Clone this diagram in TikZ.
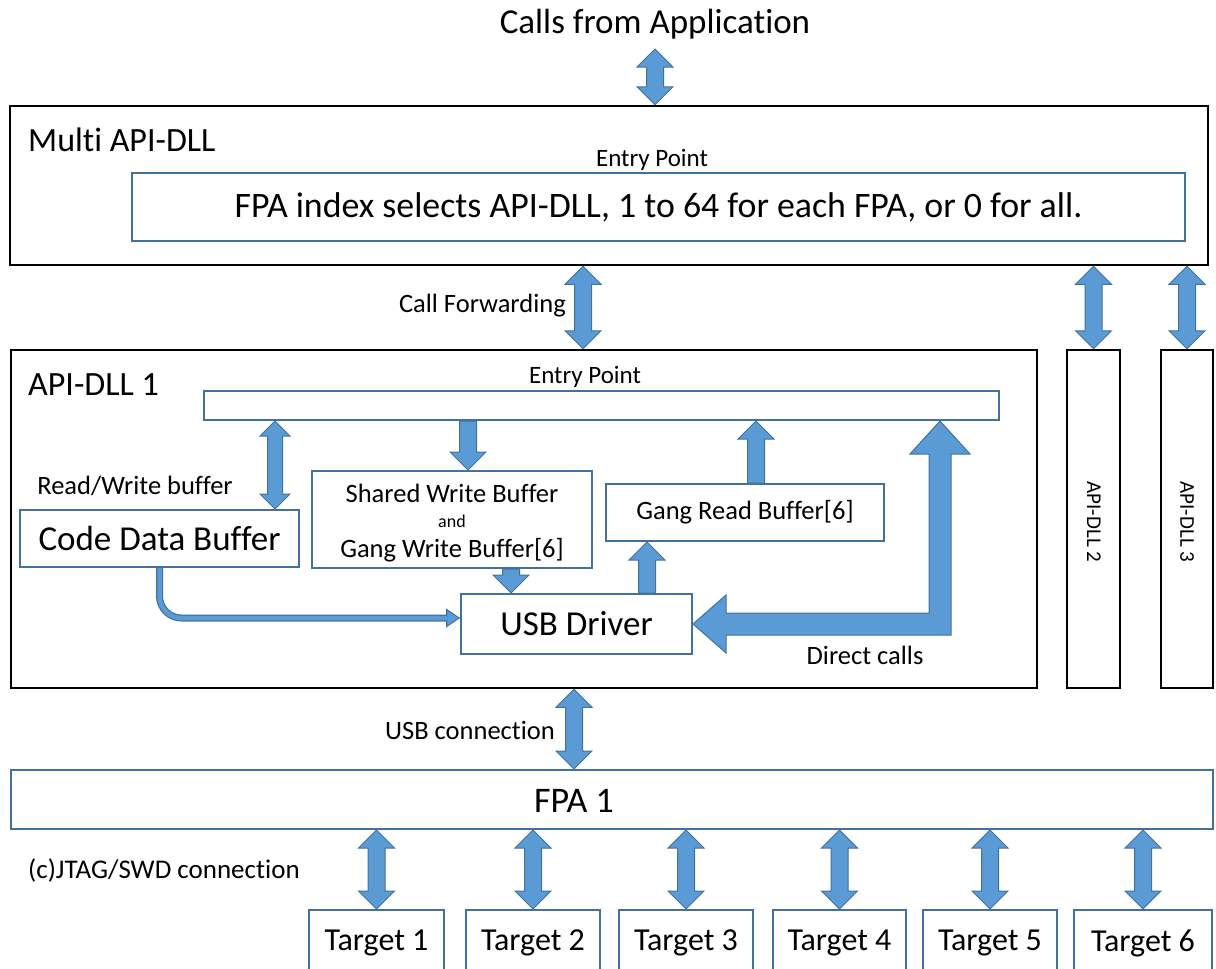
\documentclass[tikz,border=0pt]{standalone}
\usepackage{fontspec}
\setmainfont{Carlito}[Ligatures=NoCommon]
\usetikzlibrary{arrows.meta,calc}
\definecolor{afill}{HTML}{5B9BD5}
\definecolor{aline}{HTML}{41719C}
\definecolor{bline}{HTML}{41719C}
\newcommand\fsz[1]{\fontsize{#1}{#1}\selectfont}
% block arrows: #1 top point, #2 bottom point, #3 half head width, #4 half shaft width, #5 head length
\newcommand\dblarr[5]{\draw[blk] let \p1=#1, \p2=#2 in (\x1,\y1) -- (\x1+#3,\y1-#5) -- (\x1+#4,\y1-#5) -- (\x1+#4,\y2+#5) -- (\x1+#3,\y2+#5) -- (\x1,\y2) -- (\x1-#3,\y2+#5) -- (\x1-#4,\y2+#5) -- (\x1-#4,\y1-#5) -- (\x1-#3,\y1-#5) -- cycle;}
\newcommand\uparr[5]{\draw[blk] let \p1=#1, \p2=#2 in (\x1,\y1) -- (\x1+#3,\y1-#5) -- (\x1+#4,\y1-#5) -- (\x1+#4,\y2) -- (\x1-#4,\y2) -- (\x1-#4,\y1-#5) -- (\x1-#3,\y1-#5) -- cycle;}
\newcommand\dnarr[5]{\draw[blk] let \p1=#1, \p2=#2 in (\x1-#4,\y1) -- (\x1+#4,\y1) -- (\x1+#4,\y2+#5) -- (\x1+#3,\y2+#5) -- (\x1,\y2) -- (\x1-#3,\y2+#5) -- (\x1-#4,\y2+#5) -- cycle;}
\newcommand\dblarrow[2]{\dblarr{#1}{#2}{18pt}{8.5pt}{18pt}}
\begin{document}
\begin{tikzpicture}[x=1pt,y=-1pt,
  blk/.style={fill=afill, draw=aline, line width=1pt, line join=miter},
  kbox/.style={draw=black, line width=2.5pt, inner sep=0pt},
  bbox/.style={draw=bline, line width=2pt, fill=white, inner sep=0pt},
  txt/.style={inner sep=0pt},
  curv/.style={rounded corners=22pt, line width=7pt, draw=aline,
    -{Triangle[length=14pt,width=19pt,line width=0.1pt]},
    postaction={draw=afill, line width=4.5pt, -{Triangle[length=11pt,width=14pt,line width=0.1pt]}, shorten >=1.7pt}}]
\useasboundingbox (0,0) rectangle (1216,969);
% top
\node[txt,font=\fsz{35}] (title) at (655,24) {Calls from Application};
\coordinate (app) at (655,49);
\node[kbox, minimum width=1198pt, minimum height=159pt] (multi) at (609,185.5) {};
\node[txt, anchor=west, font=\fsz{34}] (multilbl) at (28,140) {Multi API-DLL};
\node[txt, font=\fsz{25}] (ep1) at (652,160) {Entry Point};
\node[bbox, minimum width=1053pt, minimum height=68pt, font=\fsz{35.8}] (idx) at (658.5,207) {FPA index selects API-DLL, 1 to 64 for each FPA, or 0 for all.};
% API-DLL boxes
\node[kbox, minimum width=1026pt, minimum height=338pt] (dll1) at (524,519) {};
\node[kbox, minimum width=53pt, minimum height=338pt] (api2) at (1093.5,519) {};
\node[txt, rotate=-90, font=\fsz{21}] (api2lbl) at (1094,522) {API-DLL 2};
\node[kbox, minimum width=52pt, minimum height=338pt] (api3) at (1187,519) {};
\node[txt, rotate=-90, font=\fsz{21}] (api3lbl) at (1187,522) {API-DLL 3};
\node[txt, anchor=west, font=\fsz{34}] (dll1lbl) at (28,385) {API-DLL 1};
\node[txt, font=\fsz{25}] (ep2) at (585,377) {Entry Point};
\node[bbox, minimum width=795pt, minimum height=29pt] (entry) at (601.5,405.5) {};
\node[bbox, minimum width=279pt, minimum height=57pt, font=\fsz{35}] (cdb) at (159.5,538.5) {Code Data Buffer};
\node[txt, font=\fsz{26.5}] (rwlbl) at (135,486) {Read/Write buffer};
\node[bbox, minimum width=280pt, minimum height=97pt] (swb) at (452,519.5) {};
\node[txt, font=\fsz{26.5}] (swb1) at (452,493) {Shared Write Buffer};
\node[txt, font=\fsz{18}] (swb2) at (452,521) {and};
\node[txt, font=\fsz{26.5}] (swb3) at (452,550) {Gang Write Buffer[6]};
\node[bbox, minimum width=278pt, minimum height=57pt, font=\fsz{26.5}] (grb) at (745,512.5) {Gang Read Buffer[6]};
\node[bbox, minimum width=231pt, minimum height=60pt, font=\fsz{35}] (usb) at (576.5,624) {USB Driver};
\node[txt, font=\fsz{26.5}] (dclbl) at (865,655) {Direct calls};
% FPA
\node[bbox, minimum width=1202pt, minimum height=59pt] (fpa) at (612,799.5) {};
\node[txt, font=\fsz{36}] (fpalbl) at (574,801) {FPA 1};
\node[txt, anchor=east, font=\fsz{26.5}] (cflbl) at (566,306) {Call Forwarding};
\node[txt, anchor=east, font=\fsz{26.5}] (usbclbl) at (555,730) {USB connection};
\node[txt, font=\fsz{27}] (jtaglbl) at (164,870) {(c)JTAG/SWD connection};
% coordinates for arrow x positions
\coordinate (cfx) at (583,0);
\coordinate (rwx) at (275,0);
\coordinate (swx) at (468,0);
\coordinate (grx) at (756,0);
\coordinate (uwx) at (511,0);
\coordinate (urx) at (647,0);
\coordinate (dcx) at (940,0);
\coordinate (ucx) at (574,0);
% arrows
\dblarrow{(app)}{(app |- multi.north)}
\dblarrow{(cfx |- multi.south)}{(cfx |- dll1.north)}
\dblarrow{(api2.north |- multi.south)}{(api2.north)}
\dblarrow{(api3.north |- multi.south)}{(api3.north)}
\dblarr{(rwx |- entry.south)}{(rwx |- cdb.north)}{15pt}{7.5pt}{15pt}
\dnarr{(swx |- entry.south)}{(swx |- swb.north)}{18pt}{8.5pt}{18pt}
\uparr{(grx |- entry.south)}{(grx |- grb.north)}{18pt}{8.5pt}{18pt}
\dnarr{(uwx |- swb.south)}{(uwx |- usb.north)}{18pt}{8.5pt}{18pt}
\uparr{(urx |- grb.south)}{(urx |- usb.north)}{18pt}{8.5pt}{18pt}
\draw[blk] let \p1=(usb.east), \p2=(dcx |- entry.south) in
  (\x1,\y1) -- (\x1+33pt,\y1+29pt) -- (\x1+33pt,\y1+11pt) -- (\x2-11pt,\y1+11pt)
  -- (\x2-11pt,\y2-33pt) -- (\x2-30pt,\y2-33pt) -- (\x2,\y2) -- (\x2+30pt,\y2-33pt)
  -- (\x2+11pt,\y2-33pt) -- (\x2+11pt,\y1-11pt) -- (\x1+33pt,\y1-11pt) -- (\x1+33pt,\y1-29pt) -- cycle;
\draw[curv] (cdb.south) |- ([yshift=6pt]usb.west);
\dblarrow{(ucx |- dll1.south)}{(ucx |- fpa.north)}
% targets
\foreach \ti/\tx/\tw in {1/376.5/135, 2/533/134, 3/686/134, 4/839.5/133, 5/990/134, 6/1143/138}{
  \node[bbox, minimum width=\tw pt, minimum height=100pt] (t\ti) at (\tx,960) {};
  \node[txt, font=\fsz{32}] (t\ti lbl) at (\tx,943) {Target \ti};
  \dblarrow{(t\ti.north |- fpa.south)}{(t\ti.north)}
}
\end{tikzpicture}
\end{document}
